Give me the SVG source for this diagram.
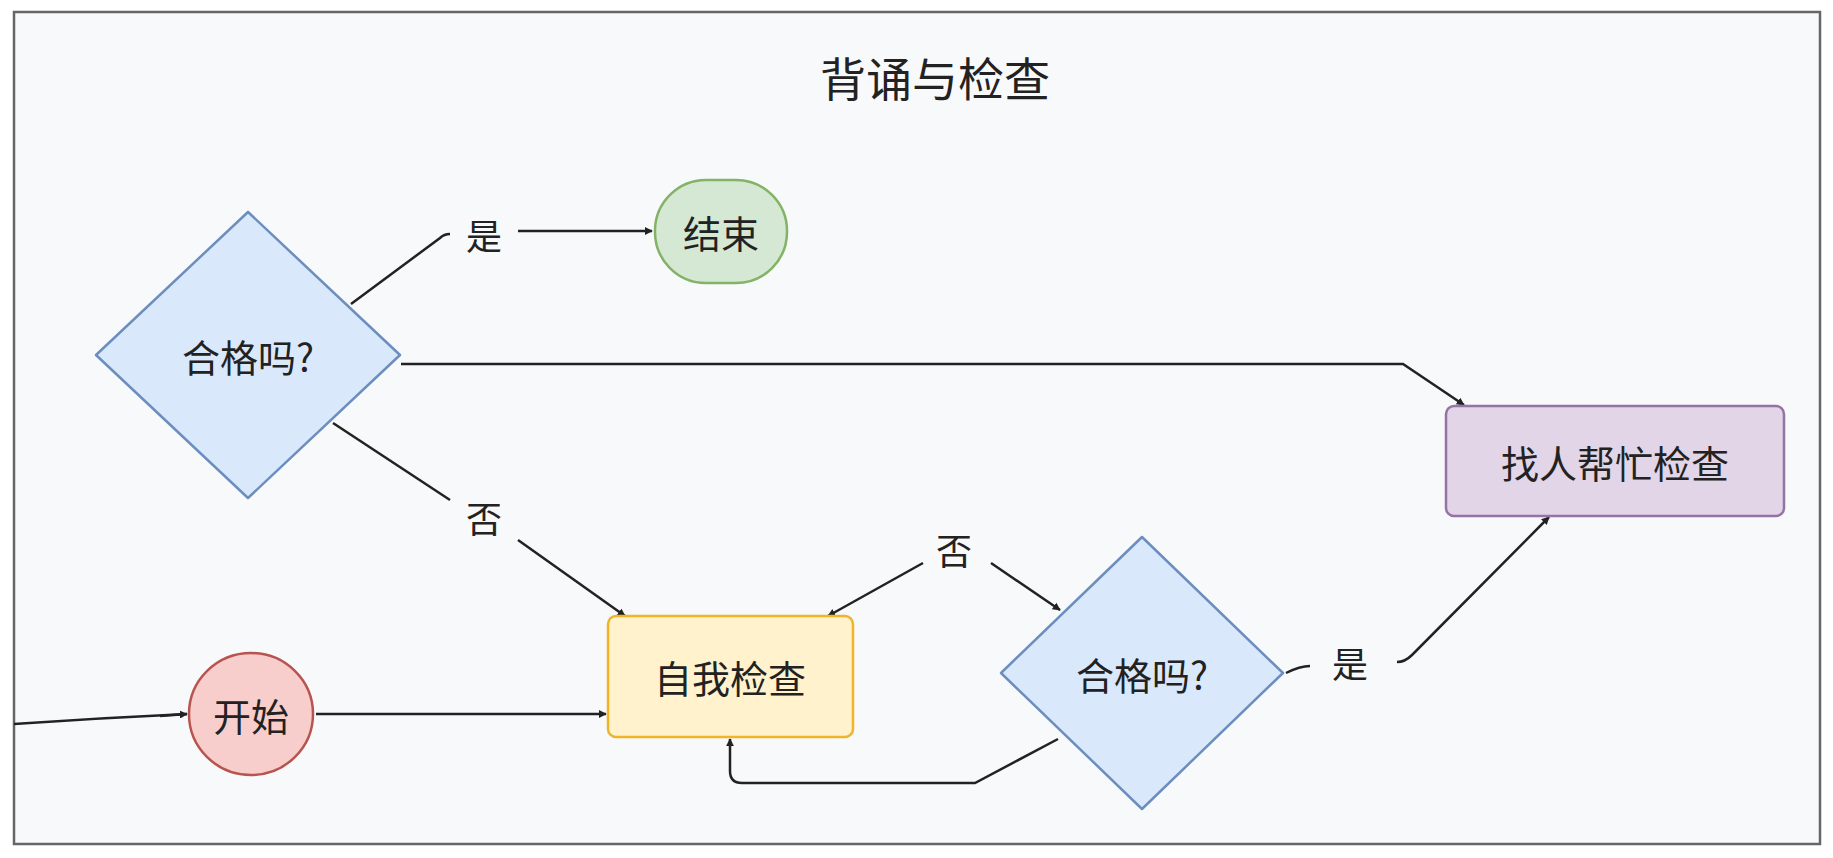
<svg xmlns="http://www.w3.org/2000/svg" width="1833" height="858" viewBox="0 0 1833 858">
<defs>
<marker id="ar" viewBox="0 0 10 10" refX="9" refY="5" markerWidth="8" markerHeight="8" orient="auto" markerUnits="userSpaceOnUse"><path d="M0,0 L10,5 L0,10 z" fill="#222"/></marker>
<style>
text{font-family:"Noto Sans CJK SC","Liberation Sans",sans-serif;fill:#222;text-anchor:middle;dominant-baseline:central}
.n{font-size:38px}
.l{font-size:36px}
.c{fill:none;stroke:#222;stroke-width:2.5;marker-end:url(#ar)}
.p{fill:none;stroke:#222;stroke-width:2.5}
</style>
</defs>
<rect x="0" y="0" width="1833" height="858" fill="#fff"/>
<rect x="14" y="12" width="1806" height="832" fill="#f8f9fa" stroke="#666" stroke-width="2.5"/>
<text x="935" y="76" style="font-size:46px">背诵与检查</text>
<g id="connectors">
<path class="p" d="M14,724 Q100,718 187,714"/>
<path class="c" d="M160,716 L187,714"/>
<path class="c" d="M316,714 L606,714"/>
<path class="p" d="M351,304 L440,238 Q444,234 450,234"/>
<path class="c" d="M518,231 L652,231"/>
<path class="c" d="M401,364 L1403,364 L1464,405"/>
<path class="p" d="M333,423 L450,500"/>
<path class="c" d="M518,540 L625,616"/>
<path class="c" d="M923,563 L828,616"/>
<path class="c" d="M991,563 L1060,610"/>
<path class="c" d="M1058,739 L975,783 L742,783 Q730,783 730,771 L730,739"/>
<path class="p" d="M1286,673 Q1300,666 1310,666"/>
<path class="c" d="M1397,662 Q1405,662 1412,655 L1549,517"/>
</g>
<g id="d1"><polygon points="248,212 400,355 248,498 96,355" fill="#dae8fc" stroke="#6c8ebf" stroke-width="2.5" stroke-linejoin="round"/><text class="n" x="248" y="355">合格吗?</text></g>
<g id="end"><rect x="655" y="180" width="132" height="103" rx="51" fill="#d5e8d4" stroke="#82b366" stroke-width="2.5"/><text class="n" x="721" y="231">结束</text></g>
<g id="help"><rect x="1446" y="406" width="338" height="110" rx="8" fill="#e1d5e7" stroke="#9673a6" stroke-width="2.5"/><text class="n" x="1615" y="461">找人帮忙检查</text></g>
<g id="self"><rect x="608" y="616" width="245" height="121" rx="8" fill="#fff2cc" stroke="#f0b429" stroke-width="2.5"/><text class="n" x="730" y="676">自我检查</text></g>
<g id="d2"><polygon points="1142,537 1283,673 1142,809 1001,673" fill="#dae8fc" stroke="#6c8ebf" stroke-width="2.5" stroke-linejoin="round"/><text class="n" x="1142" y="673">合格吗?</text></g>
<g id="start"><ellipse cx="251" cy="714" rx="62" ry="61" fill="#f8cecc" stroke="#b85450" stroke-width="2.5"/><text class="n" x="251" y="714">开始</text></g>
<g id="labels">
<text class="l" x="484" y="234">是</text>
<text class="l" x="484" y="517">否</text>
<text class="l" x="954" y="549">否</text>
<text class="l" x="1350" y="662">是</text>
</g>
</svg>
